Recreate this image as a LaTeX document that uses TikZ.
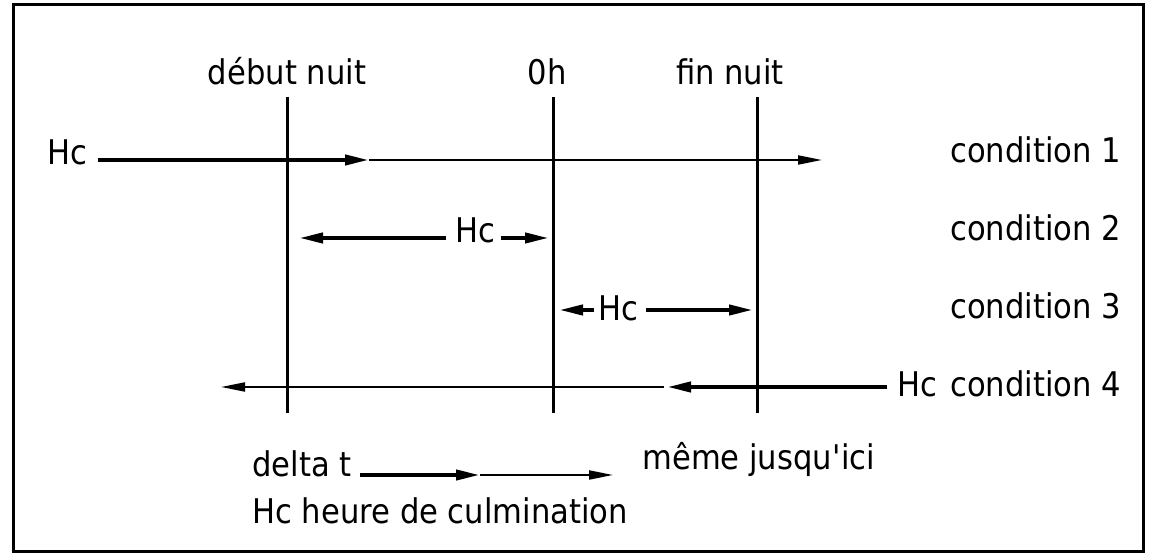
\documentclass[tikz,border=0pt]{standalone}
\usepackage{fontspec}
\setmainfont{DejaVu Sans}[FakeStretch=0.9]
\usetikzlibrary{arrows.meta}

\tikzset{
  lbl/.style={inner sep=0pt, font=\fontsize{17pt}{20pt}\selectfont},
  thin arrow/.style={line width=1pt, -{Triangle[length=12pt,width=4.5pt]}},
  thick arrow/.style={line width=2pt, -{Triangle[length=12pt,width=5pt]}},
  night/.style={line width=1.5pt}
}

\begin{document}
\begin{tikzpicture}[x=0.5pt, y=-0.5pt]
        \useasboundingbox (0, 0) rectangle (1152, 560);
        \draw[line width=1.5pt] (13, 5) rectangle (1143, 552);
        % limites de la nuit
        \coordinate (debutH) at (287, 97);  \coordinate (debutB) at (287, 413);
        \coordinate (minuitH) at (553, 97); \coordinate (minuitB) at (553, 413);
        \coordinate (finH) at (757, 97);    \coordinate (finB) at (757, 413);
        \draw[night] (debutH) -- (debutB);
        \draw[night] (minuitH) -- (minuitB);
        \draw[night] (finH) -- (finB);
        \node[lbl, anchor=base] (debut) at (287, 85) {début nuit};
        \node[lbl, anchor=base] (minuit) at (547, 85) {0h};
        \node[lbl, anchor=base] (fin) at (730, 85) {fin nuit};
        % conditions
        \node[lbl, anchor=base west] (cond1) at (950, 163) {condition 1};
        \node[lbl, anchor=base west] (cond2) at (950, 241) {condition 2};
        \node[lbl, anchor=base west] (cond3) at (950, 319) {condition 3};
        \node[lbl, anchor=base west] (cond4) at (950, 397) {condition 4};
        % condition 1
        \node[lbl, anchor=base west] (hcA) at (47, 165) {Hc};
        \coordinate (a1) at (369, 160);
        \coordinate (a2) at (822, 160);
        \draw[thick arrow] (hcA.east |- a1) ++(10, 0) -- (a1);
        \draw[thin arrow] (a1) -- (a2);
        % condition 2
        \node[lbl, anchor=base west] (hcB) at (455, 243) {Hc};
        \coordinate (b1) at (299, 238);
        \coordinate (b2) at (549, 238);
        \draw[thick arrow] (hcB.west |- b1) ++(-9, 0) -- (b1);
        \draw[thick arrow] (hcB.east |- b2) ++(5, 0) -- (b2);
        % condition 3
        \node[lbl, anchor=base west] (hcC) at (598, 321) {Hc};
        \coordinate (c1) at (559, 310);
        \coordinate (c2) at (753, 310);
        \draw[thick arrow] (hcC.west |- c1) ++(-4, 0) -- (c1);
        \draw[thick arrow] (hcC.east |- c2) ++(7, 0) -- (c2);
        % condition 4
        \node[lbl, anchor=base west] (hcD) at (897, 397) {Hc};
        \coordinate (d1) at (667, 387);
        \coordinate (d2) at (221, 387);
        \draw[thick arrow] (hcD.west |- d1) ++(-10, 0) -- (d1);
        \draw[thin arrow] (d1) ++(-3, 0) -- (d2);
        % legende
        \node[lbl, anchor=base west] (delta) at (252, 477) {delta t};
        \node[lbl, anchor=base west] (meme) at (642, 470) {même jusqu\textquotesingle ici};
        \node[lbl, anchor=base west] (legende) at (252, 524) {Hc heure de culmination};
        \coordinate (e1) at (480, 475);
        \coordinate (e2) at (613, 475);
        \draw[thick arrow] (delta.east |- e1) ++(8, 0) -- (e1);
        \draw[thin arrow] (e1) -- (e2);
    \end{tikzpicture}
\end{document}
